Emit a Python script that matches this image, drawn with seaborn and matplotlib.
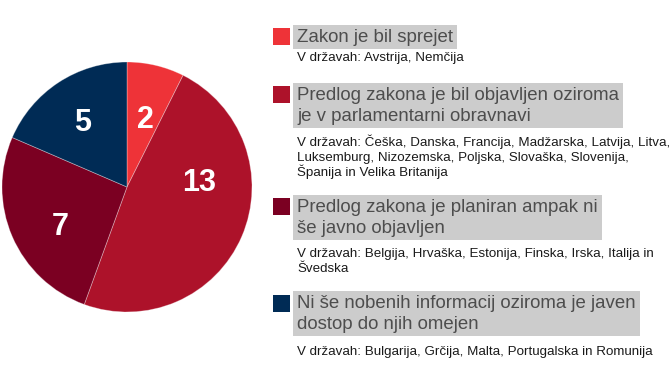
import matplotlib
matplotlib.use("Agg")
import matplotlib.pyplot as plt
import seaborn as sns
import numpy as np

sns.set_theme(style="white")
plt.rcParams['font.family'] = ['Liberation Sans', 'DejaVu Sans']

categories = [
    "Zakon je bil sprejet",
    "Predlog zakona je bil objavljen oziroma\nje v parlamentarni obravnavi",
    "Predlog zakona je planiran ampak ni\nše javno objavljen",
    "Ni še nobenih informacij oziroma je javen\ndostop do njih omejen",
]
values = [2, 13, 7, 5]
countries = [
    "V državah: Avstrija, Nemčija",
    "V državah: Češka, Danska, Francija, Madžarska, Latvija, Litva,\nLuksemburg, Nizozemska, Poljska, Slovaška, Slovenija,\nŠpanija in Velika Britanija",
    "V državah: Belgija, Hrvaška, Estonija, Finska, Irska, Italija in\nŠvedska",
    "V državah: Bulgarija, Grčija, Malta, Portugalska in Romunija",
]
colors = ["#EE3338", "#AD122A", "#7B0022", "#002B55"]

W, H = 670, 388
fig = plt.figure(figsize=(W / 100, H / 100), dpi=100)
fig.patch.set_facecolor("white")

def fx(x):
    return x / W

def fy(y):
    return 1 - y / H

# pie axes: centre (127,187), radius 125 px
cx, cy, R = 127, 187, 125
ax = fig.add_axes([fx(cx - R), fy(cy + R), 2 * R / W, 2 * R / H])
wedges, _ = ax.pie(values, colors=colors, startangle=90, counterclock=False,
                   radius=1, wedgeprops=dict(edgecolor=(1, 1, 1, 0.35), linewidth=0.6))
ax.set_xlim(-1, 1)
ax.set_ylim(-1, 1)
ax.set_aspect("equal")
ax.axis("off")

# value labels
angle_shift = [-1, 29, 5, 0]
dist = [0.58, 0.58, 0.61, 0.65]
for w, v, s, d in zip(wedges, values, angle_shift, dist):
    mid = np.deg2rad((w.theta1 + w.theta2) / 2 + s)
    ax.text(d * np.cos(mid), d * np.sin(mid), str(v), ha="center", va="center_baseline",
            color="white", fontsize=22, fontweight="bold")

# legend
sq = 17
text_x = 297
heading_first_baseline = [41.7, 99.7, 211.7, 308]
heading_gap = 21
sub_first_baseline = [61, 146, 257.5, 355]
sub_gap = 15
heading_texts = []
for cat, col, hb in zip(categories, colors, heading_first_baseline):
    lines = cat.split("\n")
    texts = []
    for i, ln in enumerate(lines):
        t = fig.text(fx(text_x), fy(hb + i * heading_gap), ln, fontsize=13.4, color="#4D4D4D",
                     va="baseline", ha="left", zorder=3)
        texts.append(t)
    heading_texts.append((texts, hb, len(lines), col))

for sub, sb in zip(countries, sub_first_baseline):
    for i, ln in enumerate(sub.split("\n")):
        fig.text(fx(text_x), fy(sb + i * sub_gap), ln, fontsize=9.6, color="#1A1A1A",
                 va="baseline", ha="left", zorder=3)

fig.canvas.draw()
renderer = fig.canvas.get_renderer()
for texts, hb, n, col in heading_texts:
    right = max(t.get_window_extent(renderer).x1 for t in texts)
    top = hb - 17
    bottom = hb + (n - 1) * heading_gap + 7
    left = text_x - 4
    rect = plt.Rectangle((fx(left), fy(bottom)), (right + 4 - left) / W, (bottom - top) / H,
                         transform=fig.transFigure, facecolor="#CCCCCC", edgecolor="none",
                         zorder=1, figure=fig)
    fig.patches.append(rect)
    sq_top = hb - 13.5
    fig.patches.append(plt.Rectangle((fx(273), fy(sq_top + sq)), sq / W, sq / H,
                                     transform=fig.transFigure, facecolor=col,
                                     edgecolor="none", zorder=2, figure=fig))

fig.savefig("out.png", dpi=100)
